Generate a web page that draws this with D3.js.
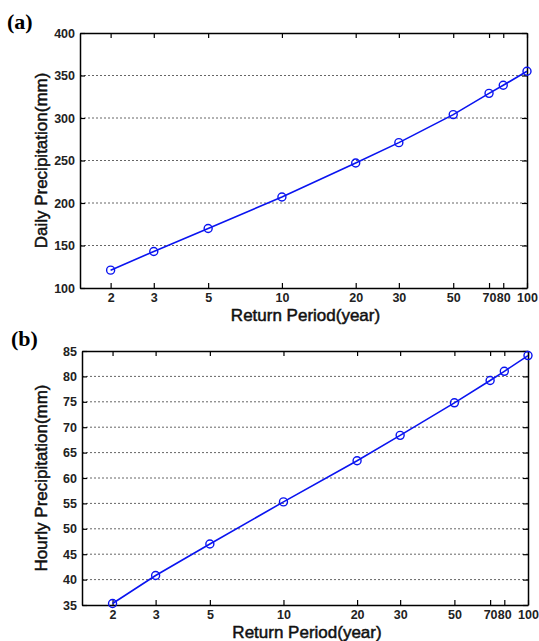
<!DOCTYPE html>
<html>
<head>
<meta charset="utf-8">
<script src="https://cdn.jsdelivr.net/npm/d3@7"></script>
<style>
  body { margin: 0; background: white; }
  svg { display: block; }
</style>
</head>
<body>
<div id="container"></div>
<script>
// return periods shared by both panels
const periods = [2, 3, 5, 10, 20, 30, 50, 70, 80, 100]
const xTicks = [2, 3, 5, 10, 20, 30, 50, 70, 80, 100]
const daily = [121, 143, 170, 207, 247, 271, 304, 329, 338.5, 355]
const hourly = [35.3, 40.8, 47.0, 55.3, 63.4, 68.4, 74.8, 79.2, 81.0, 84.1]
const dailyTicks = [100, 150, 200, 250, 300, 350, 400]
const hourlyTicks = [35, 40, 45, 50, 55, 60, 65, 70, 75, 80, 85]

const W = 539, H = 641
const svg = d3.select("#container").append("svg").attr("width", W).attr("height", H)
const sans = "Liberation Sans, Arial, sans-serif"

function panel(o) {
    const x = d3.scaleLog().domain([1.5, 100]).range([o.left, o.right])
    const y = d3.scaleLinear().domain(o.yDomain).range([o.bottom, o.top])
    const g = svg.append("g")

    // dotted grid
    g.selectAll(".grid").data(o.yTicks.slice(1, -1)).enter().append("line")
        .attr("x1", o.left).attr("x2", o.right)
        .attr("y1", d => y(d)).attr("y2", d => y(d))
        .attr("stroke", "#666").attr("stroke-width", 1).attr("stroke-dasharray", "2,2")

    const fmt = d3.format("d")
    const axes = [
        d3.axisBottom(x).tickValues(xTicks).tickFormat(fmt).tickSizeInner(-5).tickSizeOuter(0),
        d3.axisTop(x).tickValues(xTicks).tickFormat("").tickSizeInner(-5).tickSizeOuter(0),
        d3.axisLeft(y).tickValues(o.yTicks).tickFormat(fmt).tickSizeInner(-5).tickSizeOuter(0),
        d3.axisRight(y).tickValues(o.yTicks).tickFormat("").tickSizeInner(-5).tickSizeOuter(0)
    ]
    const trans = [`translate(0,${o.bottom})`, `translate(0,${o.top})`, `translate(${o.left},0)`, `translate(${o.right},0)`]
    axes.forEach((a, i) => {
        const ag = g.append("g").attr("transform", trans[i]).call(a)
        ag.select(".domain").attr("stroke", "#000").attr("stroke-width", 1.5)
        ag.selectAll(".tick line").attr("stroke", "#000").attr("stroke-width", 1.2)
        ag.selectAll("text").attr("font-family", sans)
            .attr("font-size", 12.5).attr("font-weight", "bold").attr("fill", "#222")
        if (i === 0) ag.selectAll("text").attr("dy", "0.71em").attr("y", 5)
        if (i === 2) ag.selectAll("text").attr("x", -5)
    })

    const line = d3.line().x((d, i) => x(periods[i])).y(d => y(d))
    g.append("path").datum(o.values).attr("d", line)
        .attr("fill", "none").attr("stroke", "#0a14f0").attr("stroke-width", 1.6)
    g.selectAll(".pt").data(o.values).enter().append("circle")
        .attr("cx", (d, i) => x(periods[i])).attr("cy", d => y(d)).attr("r", 4)
        .attr("fill", "none").attr("stroke", "#0a14f0").attr("stroke-width", 1.4)

    g.append("text").attr("x", (o.left + o.right) / 2 + 2).attr("y", o.bottom + 33)
        .attr("text-anchor", "middle").attr("font-family", sans)
        .attr("font-size", 17).attr("fill", "#111").attr("stroke", "#111").attr("stroke-width", 0.5)
        .text("Return Period(year)")
    g.append("text").attr("transform", `translate(47,${(o.top + o.bottom) / 2}) rotate(-90)`)
        .attr("text-anchor", "middle").attr("font-family", sans)
        .attr("font-size", 17).attr("fill", "#111").attr("stroke", "#111").attr("stroke-width", 0.5)
        .text(o.yLabel)
    g.append("text").attr("x", o.labelX).attr("y", o.labelY)
        .attr("font-family", "Liberation Serif, Times New Roman, serif")
        .attr("font-size", 22).attr("font-weight", "bold").attr("fill", "#000")
        .text(o.tag)
}

panel({ left: 80, right: 527, top: 33, bottom: 288, yDomain: [100, 400], yTicks: dailyTicks,
    values: daily, yLabel: "Daily Precipitation(mm)", tag: "(a)", labelX: 7, labelY: 29 })
panel({ left: 82, right: 528, top: 351, bottom: 605, yDomain: [35, 85], yTicks: hourlyTicks,
    values: hourly, yLabel: "Hourly Precipitation(mm)", tag: "(b)", labelX: 11, labelY: 346 })
</script>
</body>
</html>
